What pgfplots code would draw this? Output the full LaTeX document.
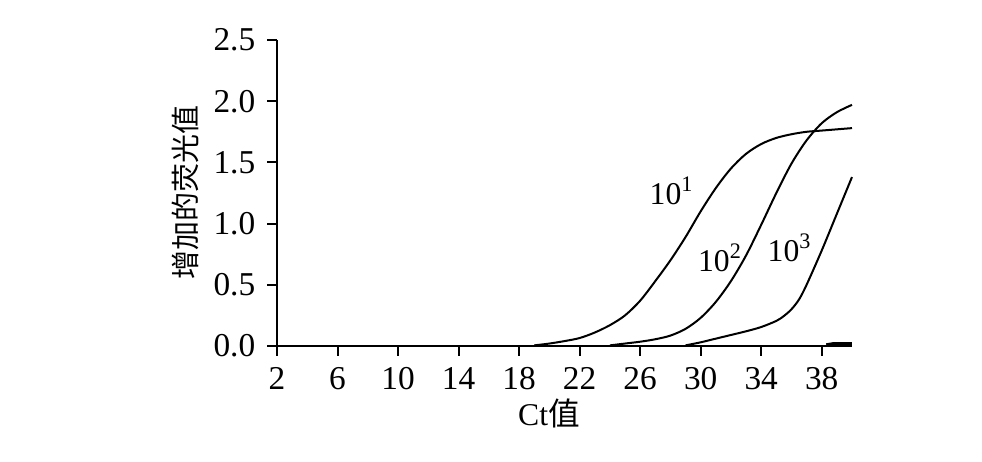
\documentclass[border=0pt]{standalone}
\usepackage{pgfplots}
\pgfplotsset{compat=1.18}
\usepackage{fontspec}
\setmainfont{Liberation Serif}
\newfontfamily\cjk{Noto Sans CJK SC}
\begin{document}
\begin{tikzpicture}
\fontsize{10}{12}\selectfont
\path[use as bounding box] (0,0) rectangle (294.6pt,138.6pt);
\begin{axis}[
  at={(83.1pt,34.8pt)}, anchor=south west,
  scale only axis, width=172.5pt, height=91.8pt,
  xmin=2, xmax=40, ymin=0, ymax=2.5,
  axis lines=left, axis line style={-, line width=0.6pt},
  tick align=outside, major tick length=3pt,
  tick style={line width=0.6pt, black},
  xtick={2,6,10,14,18,22,26,30,34,38},
  ytick={0,0.5,1,1.5,2,2.5},
  yticklabel style={/pgf/number format/fixed, /pgf/number format/fixed zerofill, /pgf/number format/precision=1},
  /pgf/number format/assume math mode=true,
  ticklabel style={font=\fontsize{10}{12}\selectfont},
  xlabel={Ct{\cjk 值}},
  ylabel={{\cjk 增加的荧光值}},
  xlabel style={at={(axis description cs:0.473,-0.219)}, anchor=center, font=\fontsize{9.5}{11}\selectfont},
  ylabel style={at={(axis description cs:-0.16,0.5)}, anchor=center, font=\fontsize{8.7}{10}\selectfont},
  clip=false,
]
\addplot[black, line width=0.6pt, smooth] coordinates {
(19,0.005) (20,0.02) (21,0.04) (22,0.065) (23,0.11) (24,0.17) (25,0.25) (26,0.37) (27,0.53) (28,0.70) (29,0.89) (30,1.10) (31,1.29) (32,1.45) (33,1.57) (34,1.65) (35,1.70) (36,1.73) (37,1.75) (38,1.76) (39,1.77) (40,1.78)
};
\addplot[black, line width=0.6pt, smooth] coordinates {
(24,0.005) (25,0.02) (26,0.035) (27,0.055) (28,0.085) (29,0.14) (30,0.23) (31,0.36) (32,0.53) (33,0.74) (34,0.99) (35,1.25) (36,1.49) (37,1.68) (38,1.82) (39,1.91) (40,1.97)
};
\addplot[black, line width=0.6pt, smooth] coordinates {
(29,0.005) (30,0.03) (31,0.06) (32,0.09) (33,0.12) (34,0.155) (35,0.205) (35.5,0.245) (36,0.30) (36.5,0.38) (37,0.50) (38,0.78) (39,1.08) (40,1.38)
};
\addplot[black, line width=0.9pt] coordinates {
(38.3,0.01) (38.8,0.02) (40,0.02)
};
\node[font=\fontsize{9.5}{11}\selectfont] at (axis cs:28.1,1.27) {10\textsuperscript{1}};
\node[font=\fontsize{9.5}{11}\selectfont] at (axis cs:31.3,0.72) {10\textsuperscript{2}};
\node[font=\fontsize{9.5}{11}\selectfont] at (axis cs:35.9,0.80) {10\textsuperscript{3}};
\end{axis}
\end{tikzpicture}
\end{document}
